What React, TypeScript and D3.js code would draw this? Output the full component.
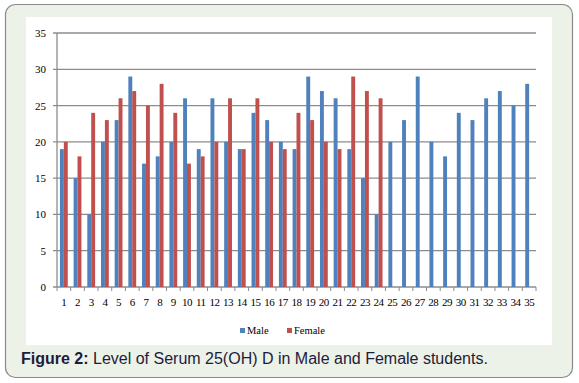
import React from "react";
import * as d3 from "d3";

const categories = Array.from({ length: 35 }, (_, i) => String(i + 1));
const maleValues = [19, 15, 10, 20, 23, 29, 17, 18, 20, 26, 19, 26, 20, 19, 24, 23, 20, 19, 29, 27, 26, 19, 15, 10, 20, 23, 29, 20, 18, 24, 23, 26, 27, 25, 28];
const femaleValues: (number | null)[] = [20, 18, 24, 23, 26, 27, 25, 28, 24, 17, 18, 20, 26, 19, 26, 20, 19, 24, 23, 20, 19, 29, 27, 26, null, null, null, null, null, null, null, null, null, null, null];
const yTicks = [0, 5, 10, 15, 20, 25, 30, 35];
const seriesNames = ["Male", "Female"];
const colors = ["#4f81bd", "#c0504d"];

export default function App() {
  const W = 579, H = 383;
  const left = 57, right = 536, top = 33, bottom = 287;
  const x = d3.scaleBand().domain(categories).range([left, right]).paddingInner(0).paddingOuter(0);
  const y = d3.scaleLinear().domain([0, 35]).range([bottom, top]);
  const bw = x.bandwidth();
  const barW = bw / 3.5;
  const inner = d3.scaleBand().domain(["0", "1"]).range([bw * 0.75 / 3.5 * 1, bw - bw * 0.75 / 3.5]);
  const serif = "'Liberation Serif', 'Times New Roman', serif";
  return (
    <svg width={W} height={H} style={{ position: "absolute", left: 0, top: 0 }}>
      <rect x={5.5} y={4.5} width={567} height={373} rx={10} fill="#edf2e8" stroke="#8a8a8a" strokeWidth={1.2} />
      <rect x={26} y={17} width={526} height={328} fill="#ffffff" />
      {yTicks.map((t) => (
        <g key={t}>
          <line x1={left - 4} x2={right} y1={y(t)} y2={y(t)} stroke="#8c8c8c" strokeWidth={1.3} />
          <text x={left - 11} y={y(t) + 4} textAnchor="end" fontFamily={serif} fontSize={11} fill="#000">{t}</text>
        </g>
      ))}
      <line x1={left} x2={left} y1={top} y2={bottom} stroke="#8c8c8c" strokeWidth={1.3} />
      {categories.map((c, i) => (
        <g key={c}>
          {maleValues[i] != null && (
            <rect x={(x(c) as number) + (inner("0") as number)} y={y(maleValues[i])} width={barW} height={bottom - y(maleValues[i])} fill={colors[0]} />
          )}
          {femaleValues[i] != null && (
            <rect x={(x(c) as number) + (inner("1") as number)} y={y(femaleValues[i] as number)} width={barW} height={bottom - y(femaleValues[i] as number)} fill={colors[1]} />
          )}
          <line x1={(x(c) as number) + bw} x2={(x(c) as number) + bw} y1={bottom} y2={bottom + 4} stroke="#8c8c8c" />
          <text x={(x(c) as number) + bw / 2} y={bottom + 19} textAnchor="middle" fontFamily={serif} fontSize={11} letterSpacing={-0.5} fill="#000">{c}</text>
        </g>
      ))}
      <line x1={left} x2={left} y1={bottom} y2={bottom + 4} stroke="#8c8c8c" />
      {seriesNames.map((s, i) => (
        <g key={s} transform={`translate(${i === 0 ? 240 : 287},0)`}>
          <rect x={0} y={328} width={5} height={5} fill={colors[i]} />
          <text x={7} y={334} fontFamily={serif} fontSize={10.5} fill="#000">{s}</text>
        </g>
      ))}
      <text x={21} y={364} fontFamily="'Liberation Sans', Arial, sans-serif" fontSize={16} fill="#1c1c3c">
        <tspan fontWeight="bold">Figure 2:</tspan> Level of Serum 25(OH) D in Male and Female students.
      </text>
    </svg>
  );
}
